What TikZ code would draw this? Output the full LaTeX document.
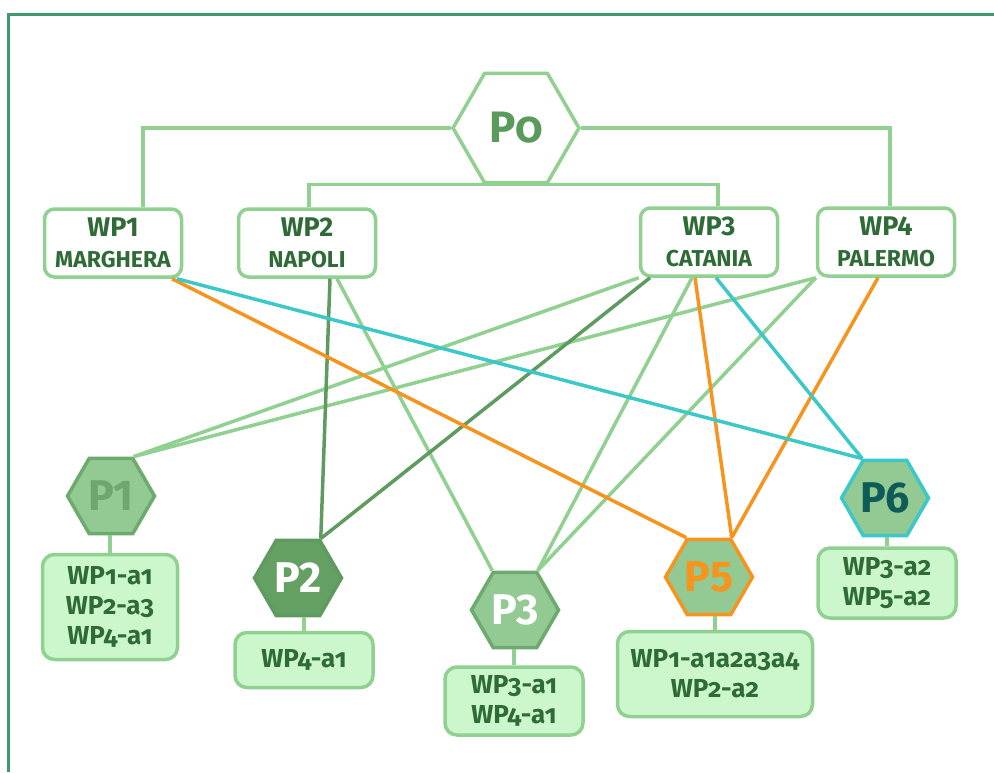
\documentclass[tikz,border=0pt]{standalone}
\usepackage{fontspec}
\setmainfont{Fira Sans}
\newfontfamily\oldnum{Fira Sans}[Numbers=OldStyle]
\usepackage{xcolor}
\usepackage{tikz}
\usetikzlibrary{shapes.geometric,positioning,calc}

\definecolor{frame}{HTML}{3C9A6C}
\definecolor{lineg}{HTML}{90D090}
\definecolor{darkg}{HTML}{5F9B5F}
\definecolor{orangel}{HTML}{F7941D}
\definecolor{cyanl}{HTML}{3CC8C8}
\definecolor{txtgreen}{HTML}{2F6B37}
\definecolor{p0text}{HTML}{5A9A5A}
\definecolor{hexfill}{HTML}{93C993}
\definecolor{hexedge}{HTML}{6DAA6D}
\definecolor{p1text}{HTML}{6FA66F}
\definecolor{darkfill}{HTML}{64A064}
\definecolor{tealtext}{HTML}{0E5C57}
\definecolor{mint}{HTML}{CCF7CC}

\begin{document}
\begin{tikzpicture}[x=1pt, y=-1pt,
    wp/.style={draw=lineg, line width=3.5pt, rounded corners=10pt, fill=white,
               minimum width=137pt, minimum height=68pt, inner sep=0pt,
               align=center, text=txtgreen, font=\bfseries\fontsize{27}{31}\selectfont},
    hex/.style={regular polygon, regular polygon sides=6, minimum size=87pt,
                inner sep=0pt, line width=3.5pt, fill=hexfill, draw=hexedge,
                font=\bfseries\fontsize{43}{43}\selectfont},
    act/.style={draw=lineg, line width=3.5pt, rounded corners=12pt, fill=mint,
                minimum width=138pt, inner sep=0pt, align=center, text=txtgreen,
                font=\oldnum\bfseries\fontsize{26}{30}\selectfont},
    lnk/.style={line width=3.5pt, lineg},
    dlnk/.style={line width=3.5pt, darkg},
    olnk/.style={line width=3.5pt, orangel},
    clnk/.style={line width=3.5pt, cyanl},
  ]
    \useasboundingbox (0,0) rectangle (994,772);
    \draw[frame, line width=3pt] (8,772) -- (8,14) -- (994,14);

    % root
    \node[hex, minimum size=126pt, fill=white, draw=lineg, text=p0text,
          font=\oldnum\bfseries\fontsize{44}{44}\selectfont] (p0) at (516,128) {P0};

    % work packages
    \node[wp] (wp1) at (113,243) {WP1\\{\fontsize{23}{23}\selectfont MARGHERA}};
    \node[wp] (wp2) at (307,243) {WP2\\{\fontsize{23}{23}\selectfont NAPOLI}};
    \node[wp] (wp3) at (709,242) {WP3\\{\fontsize{23}{23}\selectfont CATANIA}};
    \node[wp] (wp4) at (886,242) {WP4\\{\fontsize{23}{23}\selectfont PALERMO}};

    \draw[lnk] (p0.west) -| ([xshift=30pt]wp1.north);
    \draw[lnk] (p0.east) -| ([xshift=4pt]wp4.north);
    \draw[lnk] ([xshift=2pt]wp2.north) |- (p0.south) -| ([xshift=9pt]wp3.north);

    % partners
    \node[hex, text=p1text] (p1) at (111,496) {P1};
    \node[hex, fill=darkfill, draw=darkg, text=white] (p2) at (298,578) {P2};
    \node[hex, text=white] (p3) at (515,610) {P3};
    \node[hex, draw=orangel, text=orangel] (p5) at (709,577) {P5};
    \node[hex, draw=cyanl, text=tealtext] (p6) at (885,498) {P6};

    % activities
    \node[act, minimum width=135pt, minimum height=105pt] (a1) at (110,607)
      {WP1-a1\\WP2-a3\\WP4-a1};
    \node[act, minimum height=55pt] (a2) at (304,660) {WP4-a1};
    \node[act, minimum height=68pt] (a3) at (514,701) {WP3-a1\\WP4-a1};
    \node[act, minimum width=195pt, minimum height=85pt] (a5) at (715,674)
      {WP1-a1a2a3a4\\WP2-a2};
    \node[act, minimum height=70pt] (a6) at (887,583) {WP3-a2\\WP5-a2};

    \foreach \p/\a in {p1/a1, p2/a2, p3/a3, p5/a5, p6/a6}
      \draw[lnk] (\a.north) -- (\a.north |- \p.south);

    % links work package -> partner
    \draw[lnk] (wp3.south west) -- (p1.60);
    \draw[lnk] (wp4.south west) -- (p1.60);
    \draw[lnk] ([xshift=30pt]wp2.south) -- (p3.120);
    \draw[lnk] ([xshift=-17pt]wp3.south) -- (p3.60);
    \draw[lnk] (wp4.south west) -- (p3.60);
    \draw[dlnk] ([xshift=23pt]wp2.south) -- (p2.60);
    \draw[dlnk] ([xshift=-59pt]wp3.south) -- (p2.60);
    \draw[olnk] ([xshift=59pt]wp1.south) -- (p5.120);
    \draw[olnk] ([xshift=-14pt]wp3.south) -- (p5.60);
    \draw[olnk] ([xshift=-8pt]wp4.south) -- (p5.60);
    \draw[clnk] ([xshift=64pt]wp1.south) -- (p6.120);
    \draw[clnk] ([xshift=7pt]wp3.south) -- (p6.120);
\end{tikzpicture}
\end{document}
